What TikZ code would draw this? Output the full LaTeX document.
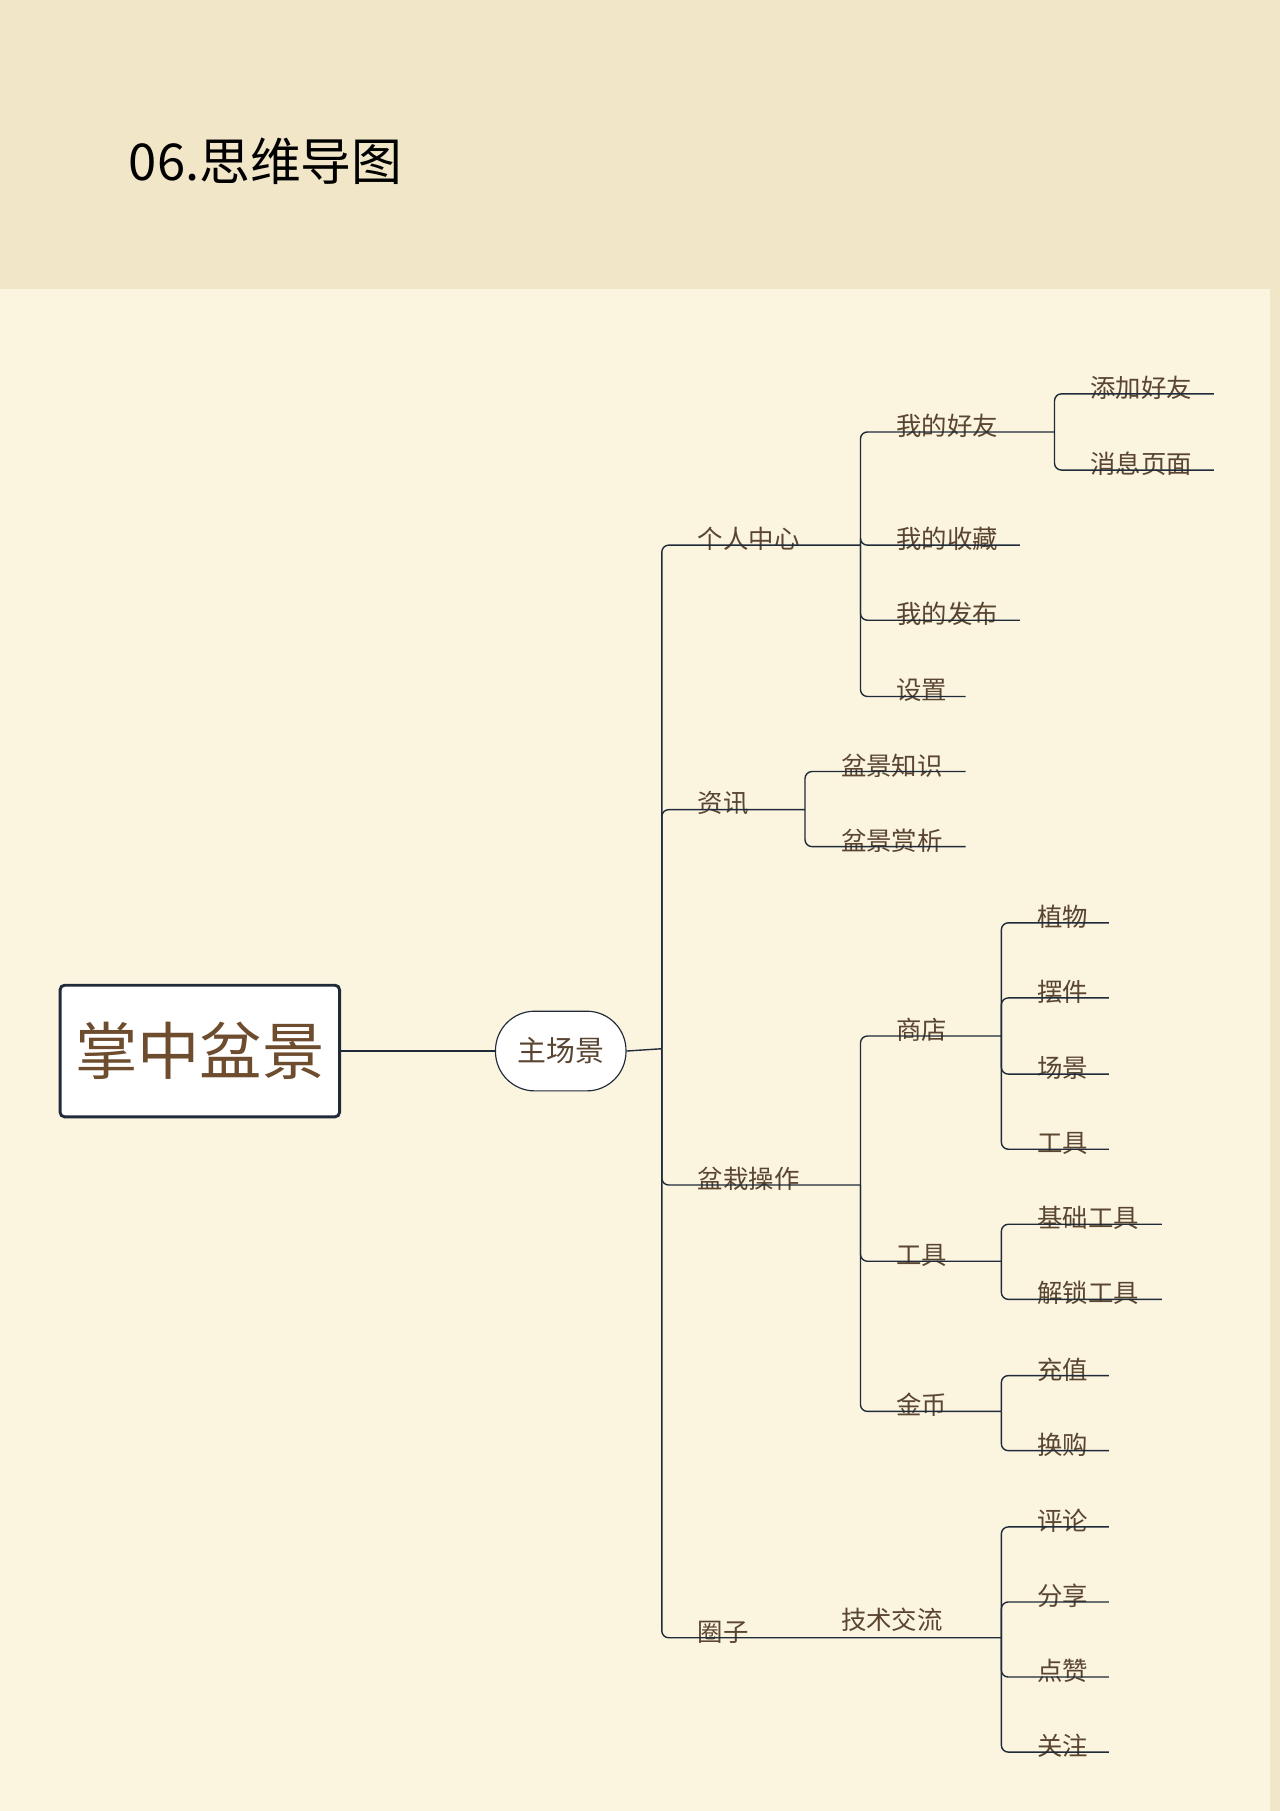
\documentclass[tikz,border=0pt]{standalone}
\usepackage{fontspec}
\setmainfont{Noto Sans CJK SC}
\definecolor{bgtop}{HTML}{F1E6C8}
\definecolor{panel}{HTML}{FBF4DF}
\definecolor{ink}{HTML}{1F2A3A}
\definecolor{txt}{HTML}{5A4530}
\definecolor{rootc}{HTML}{6E4C2E}
\tikzset{
  lbl/.style={anchor=south west,inner sep=0pt,text=txt,font=\fontsize{22}{24}\selectfont},
  ln/.style={draw=ink,line width=1.2pt,rounded corners=6pt},
}
% \mleaf{name}{junction x}{line y}{end x}{text}
\newcommand\mleaf[5]{%
  \coordinate (#1s) at (#2,#3);
  \coordinate (#1e) at (#4,#3);
  \node[lbl] (#1) at ([shift={(31,5)}]#1s) {#5};
}
\begin{document}
\begin{tikzpicture}[x=1pt,y=-1pt]
\useasboundingbox (0,0) rectangle (1108,1568);
\fill[bgtop] (0,0) rectangle (1108,1568);
\fill[panel] (0,250) rectangle (1100,1568);
\node[anchor=west,font=\fontsize{44}{48}\selectfont,text=black] (title) at (108,140) {06.思维导图};
% root
\node[draw=ink,line width=2.5pt,fill=white,rounded corners=4pt,minimum width=242pt,minimum height=114pt,text=rootc,font=\fontsize{54}{58}\selectfont] (root) at (173,910) {掌中盆景};
\node[draw=ink,line width=1pt,fill=white,rounded corners=34pt,minimum width=113pt,minimum height=69pt,text=txt,font=\fontsize{25}{28}\selectfont] (main) at (485.5,910) {主场景};
\draw[ink,line width=2pt] (root.east) -- (main.west);
\coordinate (trunk) at (573,908);
\draw[ln] (main.east) -- (trunk);
% level 1
\mleaf{grzx}{573}{472}{745}{个人中心}
\mleaf{zx}{573}{701}{697}{资讯}
\mleaf{pzcz}{573}{1026}{745}{盆栽操作}
\mleaf{qz}{573}{1418}{867}{圈子}
\node[lbl] (jsjl) at (728,1413) {技术交流};
\foreach \n in {grzx,zx,pzcz,qz} \draw[ln] (trunk) |- (\n e);
% 个人中心
\mleaf{wdhy}{745}{374}{913}{我的好友}
\mleaf{wdsc}{745}{472}{883}{我的收藏}
\mleaf{wdfb}{745}{537}{883}{我的发布}
\mleaf{sz}{745}{603}{836}{设置}
\foreach \n in {wdhy,wdsc,wdfb,sz} \draw[ln] (grzxe) |- (\n e);
\mleaf{tjhy}{913}{341}{1051}{添加好友}
\mleaf{xxym}{913}{407}{1051}{消息页面}
\foreach \n in {tjhy,xxym} \draw[ln] (wdhye) |- (\n e);
% 资讯
\mleaf{pjzs}{697}{668}{836}{盆景知识}
\mleaf{pjsx}{697}{733}{836}{盆景赏析}
\foreach \n in {pjzs,pjsx} \draw[ln] (zxe) |- (\n e);
% 盆栽操作
\mleaf{sd}{745}{897}{867}{商店}
\mleaf{gj}{745}{1092}{867}{工具}
\mleaf{jb}{745}{1222}{867}{金币}
\foreach \n in {sd,gj,jb} \draw[ln] (pzcze) |- (\n e);
\mleaf{zw}{867}{799}{960}{植物}
\mleaf{bj}{867}{864}{960}{摆件}
\mleaf{cj}{867}{930}{960}{场景}
\mleaf{gjb}{867}{995}{960}{工具}
\foreach \n in {zw,bj,cj,gjb} \draw[ln] (sde) |- (\n e);
\mleaf{jcgj}{867}{1060}{1006}{基础工具}
\mleaf{jsgj}{867}{1125}{1006}{解锁工具}
\foreach \n in {jcgj,jsgj} \draw[ln] (gje) |- (\n e);
\mleaf{cz}{867}{1191}{960}{充值}
\mleaf{hg}{867}{1256}{960}{换购}
\foreach \n in {cz,hg} \draw[ln] (jbe) |- (\n e);
% 圈子
\mleaf{pl}{867}{1322}{960}{评论}
\mleaf{fx}{867}{1387}{960}{分享}
\mleaf{dz}{867}{1452}{960}{点赞}
\mleaf{gz}{867}{1517}{960}{关注}
\foreach \n in {pl,fx,dz,gz} \draw[ln] (qze) |- (\n e);
\end{tikzpicture}
\end{document}
